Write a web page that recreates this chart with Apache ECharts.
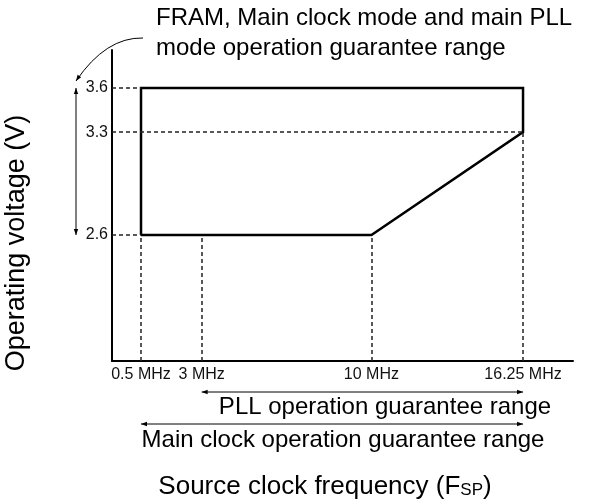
<!DOCTYPE html>
<html>
<head>
<meta charset="utf-8">
<script src="https://cdn.jsdelivr.net/npm/echarts@6/dist/echarts.min.js"></script>
<style>
  html, body { margin: 0; background: #fff; }
  #chart { width: 609px; height: 503px; }
</style>
</head>
<body>
<div id="chart"></div>
<script>
// tick values
const freqTicks = [0.5, 3, 10, 16.25]
const voltTicks = [2.6, 3.3, 3.6]

// guarantee range outline (MHz, V)
const boundaryFreq = [0.5, 0.5, 16.25, 16.25, 10, 0.5]
const boundaryVolt = [2.6, 3.6, 3.6, 3.3, 2.6, 2.6]

// dashed guides: [volt, freq where it stops] and [freq, volt where it stops]
const hGuides = [[3.6, 0.5], [3.3, 16.25], [2.6, 0.5]]
const vGuides = [[0.5, 2.6], [3, 2.6], [10, 2.6], [16.25, 3.3]]

// ranges shown by the arrows
const pllRange = [3, 16.25]
const mainRange = [0.5, 16.25]
const voltRange = [2.6, 3.6]

const font = "'Liberation Sans', Arial, Helvetica, sans-serif"
const X_MIN = -0.696
const X_MAX = 18.31
const Y_MIN = 1.743
const Y_MAX = 3.8585

const chart = echarts.init(document.getElementById('chart'))

const boundary = boundaryFreq.map((f, i) => [f, boundaryVolt[i]])
const guideLines = [
  ...hGuides.map(([v, f]) => [{ coord: [X_MIN, v] }, { coord: [f, v] }]),
  ...vGuides.map(([f, v]) => [{ coord: [f, Y_MIN] }, { coord: [f, v] }])
]

const option = {
  animation: false,
  grid: { left: 112, right: 36, top: 50, bottom: 142 },
  xAxis: {
    type: 'value',
    min: X_MIN,
    max: X_MAX,
    axisLine: { show: true, onZero: false, lineStyle: { color: '#000', width: 2 } },
    axisTick: { show: false },
    splitLine: { show: false },
    axisLabel: {
      customValues: freqTicks,
      formatter: (v) => v + ' MHz',
      color: '#111',
      fontSize: 16,
      fontFamily: font,
      margin: 6
    }
  },
  yAxis: {
    type: 'value',
    min: Y_MIN,
    max: Y_MAX,
    axisLine: { show: true, onZero: false, lineStyle: { color: '#000', width: 2 } },
    axisTick: { show: false },
    splitLine: { show: false },
    axisLabel: {
      customValues: voltTicks,
      formatter: (v) => v.toFixed(1),
      color: '#111',
      fontSize: 16,
      fontFamily: font,
      margin: 4
    }
  },
  series: [
    {
      // dashed guides
      type: 'line',
      data: [],
      z: 1,
      markLine: {
        silent: true,
        symbol: ['none', 'none'],
        label: { show: false },
        lineStyle: { color: '#222', width: 1.5, type: [4, 3] },
        data: guideLines
      }
    },
    {
      type: 'line',
      data: boundary,
      z: 3,
      symbol: 'none',
      lineStyle: { color: '#000', width: 2.5, join: 'miter' }
    }
  ]
}
chart.setOption(option)

const px = (f, v) => chart.convertToPixel({ gridIndex: 0 }, [f, v])

// small filled arrow head at (x, y) pointing along (dx, dy)
const head = (x, y, dx, dy) => {
  const len = Math.hypot(dx, dy)
  const ux = dx / len
  const uy = dy / len
  const l = 6
  const w = 2.2
  return {
    type: 'polygon',
    shape: {
      points: [
        [x, y],
        [x - ux * l - uy * w, y - uy * l + ux * w],
        [x - ux * l + uy * w, y - uy * l - ux * w]
      ]
    },
    style: { fill: '#000' }
  }
}

const hArrow = (range, y) => {
  const x1 = px(range[0], Y_MIN)[0]
  const x2 = px(range[1], Y_MIN)[0]
  return [
    { type: 'line', shape: { x1, y1: y, x2, y2: y }, style: { stroke: '#000', lineWidth: 1 } },
    head(x1, y, -1, 0),
    head(x2, y, 1, 0)
  ]
}

const yTop = px(X_MIN, voltRange[1])[1]
const yBot = px(X_MIN, voltRange[0])[1]
const textStyle = (text, size, extra) =>
  Object.assign({ text, font: size + 'px ' + font, fill: '#000' }, extra)

const curve = { x1: 143, y1: 38, cpx1: 106, cpy1: 37, x2: 76, y2: 81 }

chart.setOption({
  graphic: [
    ...hArrow(pllRange, 392),
    ...hArrow(mainRange, 424),
    // voltage range arrow
    { type: 'line', shape: { x1: 76, y1: yTop, x2: 76, y2: yBot }, style: { stroke: '#000', lineWidth: 1 } },
    head(76, yTop, 0, -1),
    head(76, yBot, 0, 1),
    // pointer from the caption
    { type: 'bezierCurve', shape: curve, style: { stroke: '#000', lineWidth: 1, fill: null } },
    head(curve.x2, curve.y2, curve.x2 - curve.cpx1, curve.y2 - curve.cpy1),
    {
      type: 'text',
      x: 156,
      y: 3,
      style: textStyle('FRAM, Main clock mode and main PLL\nmode operation guarantee range', 24, {
        lineHeight: 30
      })
    },
    {
      type: 'text',
      x: 385,
      y: 407,
      style: textStyle('PLL operation guarantee range', 24, { align: 'center', verticalAlign: 'middle' })
    },
    {
      type: 'text',
      x: 343,
      y: 440,
      style: textStyle('Main clock operation guarantee range', 24, { align: 'center', verticalAlign: 'middle' })
    },
    {
      type: 'text',
      x: 325,
      y: 487,
      style: {
        text: '{a|Source clock frequency (F}{b|SP}{a|)}',
        align: 'center',
        verticalAlign: 'middle',
        rich: {
          a: { fontSize: 26, fontFamily: font, color: '#000' },
          b: { fontSize: 17, fontFamily: font, color: '#000', verticalAlign: 'bottom', padding: [0, 0, 1, 0] }
        }
      }
    },
    {
      type: 'text',
      x: 17,
      y: 243,
      rotation: Math.PI / 2,
      style: textStyle('Operating voltage (V)', 27, { align: 'center', verticalAlign: 'middle' })
    }
  ]
})
</script>
</body>
</html>
